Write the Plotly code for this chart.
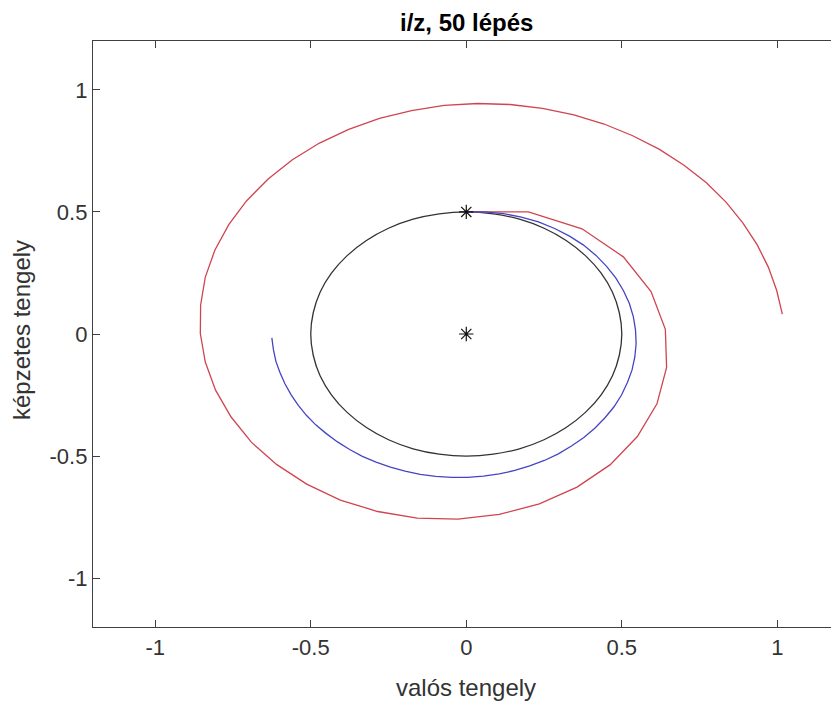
import plotly.graph_objects as go

# ---- data ----
circle_x = [0, 0.087, 0.171, 0.25, 0.321, 0.383, 0.433, 0.470, 0.492, 0.5, 0.492, 0.470, 0.433, 0.383,
            0.321, 0.25, 0.171, 0.087, 0, -0.087, -0.171, -0.25, -0.321, -0.383, -0.433, -0.470, -0.492,
            -0.5, -0.492, -0.470, -0.433, -0.383, -0.321, -0.25, -0.171, -0.087, 0]
circle_y = [0.5, 0.492, 0.470, 0.433, 0.383, 0.321, 0.25, 0.171, 0.087, 0, -0.087, -0.171, -0.25, -0.321,
            -0.383, -0.433, -0.470, -0.492, -0.5, -0.492, -0.470, -0.433, -0.383, -0.321, -0.25, -0.171,
            -0.087, 0, 0.087, 0.171, 0.25, 0.321, 0.383, 0.433, 0.470, 0.492, 0.5]

red_x = [0, 0.200, 0.372, 0.505, 0.594, 0.640, 0.644, 0.613, 0.550, 0.463, 0.356, 0.235, 0.106, -0.027,
         -0.158, -0.285, -0.405, -0.513, -0.609, -0.691, -0.756, -0.806, -0.839, -0.855, -0.854, -0.839,
         -0.808, -0.763, -0.706, -0.637, -0.559, -0.472, -0.378, -0.279, -0.176, -0.071, 0.036, 0.141,
         0.245, 0.346, 0.443, 0.535, 0.621, 0.700, 0.772, 0.835, 0.889, 0.935, 0.971, 0.998, 1.016]
red_y = [0.500, 0.500, 0.431, 0.316, 0.174, 0.019, -0.137, -0.286, -0.420, -0.535, -0.627, -0.696, -0.739,
         -0.758, -0.754, -0.727, -0.680, -0.615, -0.535, -0.443, -0.340, -0.230, -0.115, 0.002, 0.119,
         0.233, 0.344, 0.449, 0.546, 0.635, 0.714, 0.782, 0.838, 0.883, 0.915, 0.936, 0.944, 0.940,
         0.924, 0.897, 0.860, 0.812, 0.756, 0.691, 0.619, 0.540, 0.455, 0.366, 0.274, 0.178, 0.081]

blue_x = [0, 0.060, 0.119, 0.177, 0.232, 0.284, 0.332, 0.377, 0.417, 0.451, 0.481, 0.505, 0.524, 0.537,
          0.544, 0.546, 0.542, 0.533, 0.518, 0.499, 0.475, 0.446, 0.414, 0.378, 0.338, 0.296, 0.251,
          0.204, 0.156, 0.106, 0.055, 0.004, -0.047, -0.098, -0.148, -0.197, -0.244, -0.290, -0.334,
          -0.375, -0.414, -0.450, -0.484, -0.514, -0.540, -0.563, -0.583, -0.599, -0.612, -0.620, -0.625]
blue_y = [0.500, 0.500, 0.493, 0.479, 0.459, 0.432, 0.401, 0.364, 0.322, 0.277, 0.229, 0.178, 0.126,
          0.071, 0.017, -0.039, -0.093, -0.147, -0.199, -0.250, -0.298, -0.343, -0.385, -0.424, -0.459,
          -0.491, -0.518, -0.540, -0.559, -0.573, -0.582, -0.587, -0.587, -0.583, -0.575, -0.562, -0.545,
          -0.525, -0.501, -0.473, -0.442, -0.408, -0.372, -0.333, -0.292, -0.249, -0.204, -0.158, -0.112,
          -0.064, -0.016]

star_x = [0, 0]
star_y = [0.5, 0]

tick_vals = [-1, -0.5, 0, 0.5, 1]
tick_text = ["-1", "-0.5", "0", "0.5", "1"]

title_text = "i/z, 50 lépés"
xlabel = "valós tengely"
ylabel = "képzetes tengely"

FONT = "Liberation Sans, Arial, Helvetica, sans-serif"
AX = "#404040"

fig = go.Figure()
fig.add_trace(go.Scatter(x=circle_x, y=circle_y, mode="lines", line=dict(color="#333333", width=1.3, shape="spline"),
                         hoverinfo="skip"))
fig.add_trace(go.Scatter(x=red_x, y=red_y, mode="lines", line=dict(color="#cf4450", width=1.3), hoverinfo="skip"))
fig.add_trace(go.Scatter(x=blue_x, y=blue_y, mode="lines", line=dict(color="#4545c4", width=1.3), hoverinfo="skip"))
fig.add_trace(go.Scatter(x=star_x, y=star_y, mode="markers",
                         marker=dict(symbol="asterisk-open", size=12, color="#111111",
                                     line=dict(color="#111111", width=1.2)),
                         hoverinfo="skip"))

axis_common = dict(
    showgrid=False, zeroline=False, showline=True, linecolor=AX, linewidth=1.3,
    ticks="inside", ticklen=7, tickwidth=1.3, tickcolor=AX,
    tickvals=tick_vals, ticktext=tick_text,
    tickfont=dict(family=FONT, size=22, color="#333333"),
)
fig.update_xaxes(range=[-1.2, 1.1725], mirror="ticks", **axis_common)
fig.update_yaxes(range=[-1.2, 1.2], mirror=False, **axis_common)

fig.update_layout(
    width=831, height=702,
    margin=dict(l=93, r=0, t=41, b=75),
    paper_bgcolor="white", plot_bgcolor="white",
    showlegend=False,
    annotations=[
        dict(text="<b>" + title_text + "</b>", x=0, xref="x", y=1.032, yref="paper",
             xanchor="center", yanchor="middle", showarrow=False,
             font=dict(family=FONT, size=24, color="#000000")),
        dict(text=xlabel, x=0, xref="x", y=-0.104, yref="paper",
             xanchor="center", yanchor="middle", showarrow=False,
             font=dict(family=FONT, size=24, color="#333333")),
        dict(text=ylabel, x=-0.096, xref="paper", y=0.507, yref="paper", textangle=-90,
             xanchor="center", yanchor="middle", showarrow=False,
             font=dict(family=FONT, size=24, color="#333333")),
    ],
)

fig.write_html("out.html", config={"displayModeBar": False},
               post_script="document.body.style.margin='0';document.body.style.overflow='hidden';")
